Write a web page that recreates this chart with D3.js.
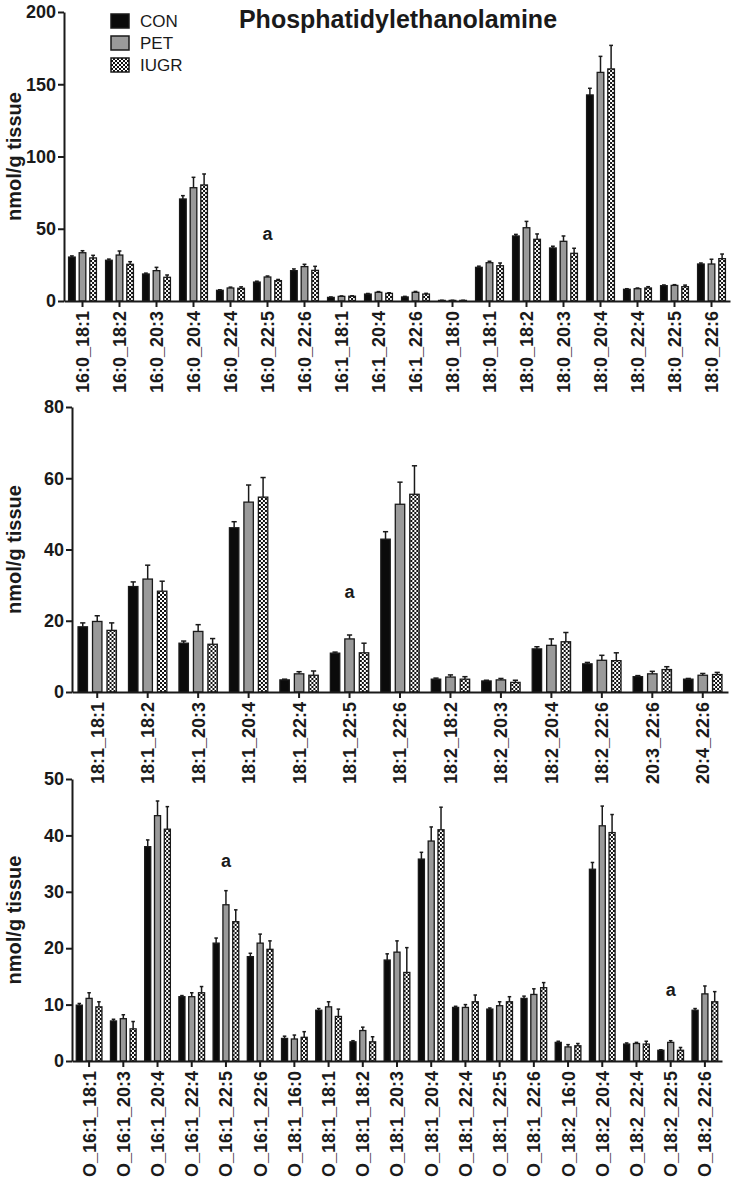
<!DOCTYPE html>
<html>
<head>
<meta charset="utf-8">
<script src="https://cdn.jsdelivr.net/npm/d3@7"></script>
<style>
  body { margin: 0; background: #fff; }
  svg text { font-family: 'Liberation Sans', Arial, sans-serif; fill: #1a1a1a; }
</style>
</head>
<body>
<div id="chart"></div>
<script>
var seriesNames = [ 'CON', 'PET', 'IUGR' ];

// panel 1 - diacyl species
var pe1Categories = [ '16:0_18:1', '16:0_18:2', '16:0_20:3', '16:0_20:4', '16:0_22:4', '16:0_22:5',
  '16:0_22:6', '16:1_18:1', '16:1_20:4', '16:1_22:6', '18:0_18:0', '18:0_18:1', '18:0_18:2',
  '18:0_20:3', '18:0_20:4', '18:0_22:4', '18:0_22:5', '18:0_22:6' ];
var pe1Con     = [ 30.4, 28.2, 18.7, 70.6, 7.4, 13.1, 21.0, 2.5, 4.8, 2.8, 0.4, 23.3, 45.0, 36.7, 142.6, 8.1, 10.6, 25.6 ];
var pe1ConSem  = [ 0.8, 0.8, 0.6, 2.3, 0.4, 0.6, 1.2, 0.3, 0.4, 0.4, 0.1, 0.8, 1.1, 1.2, 4.6, 0.4, 0.5, 0.7 ];
var pe1Pet     = [ 33.4, 31.8, 21.0, 78.4, 9.0, 16.6, 23.8, 3.2, 6.0, 6.0, 0.4, 26.5, 50.7, 41.3, 158.2, 8.5, 10.8, 25.6 ];
var pe1PetSem  = [ 1.4, 2.8, 2.3, 7.2, 0.6, 0.7, 1.6, 0.3, 0.5, 0.6, 0.1, 1.0, 4.4, 3.7, 11.1, 0.5, 0.5, 3.3 ];
var pe1Iugr    = [ 29.8, 25.4, 16.4, 80.3, 8.8, 14.1, 21.2, 3.3, 5.3, 4.8, 0.4, 24.4, 42.7, 33.0, 160.6, 9.0, 9.9, 29.3 ];
var pe1IugrSem = [ 1.8, 1.8, 1.6, 7.6, 1.0, 0.8, 2.8, 0.3, 0.4, 0.5, 0.1, 1.9, 3.7, 3.5, 16.3, 0.9, 1.1, 3.2 ];
var pe1Ticks   = [ 0, 50, 100, 150, 200 ];
var pe1MarkCategories = [ '16:0_22:5' ];
var pe1MarkValues     = [ 46 ];

// panel 2
var pe2Categories = [ '18:1_18:1', '18:1_18:2', '18:1_20:3', '18:1_20:4', '18:1_22:4', '18:1_22:5',
  '18:1_22:6', '18:2_18:2', '18:2_20:3', '18:2_20:4', '18:2_22:6', '20:3_22:6', '20:4_22:6' ];
var pe2Con     = [ 18.3, 29.6, 13.7, 46.1, 3.4, 10.9, 42.9, 3.6, 3.1, 12.1, 7.9, 4.3, 3.6 ];
var pe2ConSem  = [ 1.1, 1.3, 0.6, 1.7, 0.2, 0.3, 2.1, 0.3, 0.2, 0.6, 0.4, 0.3, 0.2 ];
var pe2Pet     = [ 19.8, 31.7, 17.0, 53.3, 5.1, 14.9, 52.7, 4.2, 3.4, 13.1, 8.9, 5.1, 4.7 ];
var pe2PetSem  = [ 1.6, 3.9, 1.9, 4.8, 0.6, 1.1, 6.2, 0.6, 0.4, 1.8, 1.4, 0.7, 0.5 ];
var pe2Iugr    = [ 17.3, 28.3, 13.4, 54.7, 4.7, 11.0, 55.5, 3.6, 2.7, 14.1, 8.8, 6.3, 4.9 ];
var pe2IugrSem = [ 2.1, 2.8, 1.6, 5.5, 1.2, 2.7, 8.0, 0.7, 0.6, 2.6, 2.2, 0.8, 0.6 ];
var pe2Ticks   = [ 0, 20, 40, 60, 80 ];
var pe2MarkCategories = [ '18:1_22:5' ];
var pe2MarkValues     = [ 27.8 ];

// panel 3 - ether species
var pe3Categories = [ 'O_16:1_18:1', 'O_16:1_20:3', 'O_16:1_20:4', 'O_16:1_22:4', 'O_16:1_22:5',
  'O_16:1_22:6', 'O_18:1_16:0', 'O_18:1_18:1', 'O_18:1_18:2', 'O_18:1_20:3', 'O_18:1_20:4',
  'O_18:1_22:4', 'O_18:1_22:5', 'O_18:1_22:6', 'O_18:2_16:0', 'O_18:2_20:4', 'O_18:2_22:4',
  'O_18:2_22:5', 'O_18:2_22:6' ];
var pe3Con     = [ 9.9, 7.1, 38.0, 11.4, 20.9, 18.5, 4.0, 9.0, 3.4, 17.9, 35.8, 9.5, 9.2, 11.1, 3.3, 34.0, 3.0, 1.9, 9.0 ];
var pe3ConSem  = [ 0.3, 0.3, 1.2, 0.2, 0.9, 0.6, 0.4, 0.3, 0.2, 1.1, 1.2, 0.2, 0.2, 0.4, 0.2, 1.2, 0.2, 0.1, 0.3 ];
var pe3Pet     = [ 11.1, 7.5, 43.5, 11.4, 27.7, 20.9, 3.9, 9.6, 5.4, 19.3, 39.0, 9.5, 9.8, 11.8, 2.5, 41.7, 3.1, 3.3, 11.9 ];
var pe3PetSem  = [ 1.0, 0.7, 2.6, 0.7, 2.5, 1.6, 0.7, 0.9, 0.6, 2.0, 2.5, 0.5, 0.7, 1.0, 0.4, 3.5, 0.2, 0.3, 1.4 ];
var pe3Iugr    = [ 9.6, 5.7, 41.1, 12.1, 24.7, 19.8, 4.2, 7.9, 3.4, 15.7, 41.0, 10.5, 10.5, 13.0, 2.7, 40.5, 3.0, 1.9, 10.5 ];
var pe3IugrSem = [ 0.9, 1.3, 4.0, 1.1, 2.1, 1.5, 1.0, 1.3, 0.9, 4.4, 4.0, 1.2, 0.9, 0.9, 0.4, 3.2, 0.5, 0.5, 1.8 ];
var pe3Ticks   = [ 0, 10, 20, 30, 40, 50 ];
var pe3MarkCategories = [ 'O_16:1_22:5', 'O_18:2_22:5' ];
var pe3MarkValues     = [ 35.3, 12.5 ];

var ink = '#1a1a1a';

var panels = [
  {
    categories : pe1Categories,
    means      : [ pe1Con, pe1Pet, pe1Iugr ],
    sems       : [ pe1ConSem, pe1PetSem, pe1IugrSem ],
    ticks      : pe1Ticks,
    marks      : [ pe1MarkCategories, pe1MarkValues ],
    box        : { left: 64, right: 730, top: 12, bottom: 301 }
  },
  {
    categories : pe2Categories,
    means      : [ pe2Con, pe2Pet, pe2Iugr ],
    sems       : [ pe2ConSem, pe2PetSem, pe2IugrSem ],
    ticks      : pe2Ticks,
    marks      : [ pe2MarkCategories, pe2MarkValues ],
    box        : { left: 72, right: 728, top: 407, bottom: 692 }
  },
  {
    categories : pe3Categories,
    means      : [ pe3Con, pe3Pet, pe3Iugr ],
    sems       : [ pe3ConSem, pe3PetSem, pe3IugrSem ],
    ticks      : pe3Ticks,
    marks      : [ pe3MarkCategories, pe3MarkValues ],
    box        : { left: 72, right: 722, top: 779, bottom: 1061 }
  }
];

var svg = d3.select( '#chart' ).append( 'svg' )
  .attr( 'width', 733 )
  .attr( 'height', 1180 );

var checker = svg.append( 'defs' ).append( 'pattern' )
  .attr( 'id', 'checker' )
  .attr( 'patternUnits', 'userSpaceOnUse' )
  .attr( 'width', 4 )
  .attr( 'height', 4 );
checker.append( 'rect' ).attr( 'width', 4 ).attr( 'height', 4 ).attr( 'fill', '#111' );
checker.append( 'rect' ).attr( 'width', 2 ).attr( 'height', 2 ).attr( 'fill', '#fff' );
checker.append( 'rect' ).attr( 'x', 2 ).attr( 'y', 2 ).attr( 'width', 2 ).attr( 'height', 2 ).attr( 'fill', '#fff' );

var fills = { CON: '#0b0b0b', PET: '#9a9a9a', IUGR: 'url(#checker)' };

function styleAxis( g ) {
  g.attr( 'font-family', null ).attr( 'font-size', null );
  g.selectAll( 'path, line' ).attr( 'stroke', ink ).attr( 'stroke-width', 2 );
  g.selectAll( 'text' )
    .attr( 'fill', ink )
    .style( 'font-size', '18px' )
    .style( 'font-weight', 'bold' );
}

function drawPanel( p ) {
  var box = p.box,
      x = d3.scaleBand()
        .domain( p.categories )
        .range( [ box.left, box.right ] )
        .paddingInner( 0.22 )
        .paddingOuter( 0.11 ),
      xs = d3.scaleBand()
        .domain( seriesNames )
        .range( [ 0, x.bandwidth() ] )
        .paddingInner( 0.28 ),
      y = d3.scaleLinear()
        .domain( [ 0, p.ticks[ p.ticks.length - 1 ] ] )
        .range( [ box.bottom, box.top ] ),
      bw = xs.bandwidth(),
      g = svg.append( 'g' ),
      rows;

  rows = p.categories.map( function( c, i ) {
    return {
      category : c,
      values   : seriesNames.map( function( s, k ) {
        return { series: s, mean: p.means[ k ][ i ], sem: p.sems[ k ][ i ] };
      } )
    };
  } );

  var bars = g.selectAll( '.cat' )
    .data( rows )
    .enter().append( 'g' )
    .attr( 'class', 'cat' )
    .attr( 'transform', function( d ) { return 'translate(' + x( d.category ) + ',0)'; } )
    .selectAll( '.bar' )
    .data( function( d ) { return d.values; } )
    .enter().append( 'g' )
    .attr( 'class', 'bar' );

  // error bars (upper half only)
  bars.append( 'line' )
    .attr( 'x1', function( d ) { return xs( d.series ) + bw / 2; } )
    .attr( 'x2', function( d ) { return xs( d.series ) + bw / 2; } )
    .attr( 'y1', function( d ) { return y( d.mean ); } )
    .attr( 'y2', function( d ) { return y( d.mean + d.sem ); } )
    .attr( 'stroke', ink )
    .attr( 'stroke-width', 1.5 );

  bars.append( 'line' )
    .attr( 'x1', function( d ) { return xs( d.series ) + bw * 0.25; } )
    .attr( 'x2', function( d ) { return xs( d.series ) + bw * 0.75; } )
    .attr( 'y1', function( d ) { return y( d.mean + d.sem ); } )
    .attr( 'y2', function( d ) { return y( d.mean + d.sem ); } )
    .attr( 'stroke', ink )
    .attr( 'stroke-width', 1.5 );

  bars.append( 'rect' )
    .attr( 'x', function( d ) { return xs( d.series ) + 0.5; } )
    .attr( 'y', function( d ) { return y( d.mean ); } )
    .attr( 'width', bw - 1 )
    .attr( 'height', function( d ) { return y( 0 ) - y( d.mean ); } )
    .attr( 'fill', function( d ) { return fills[ d.series ]; } )
    .attr( 'stroke', ink )
    .attr( 'stroke-width', 1.3 );

  g.append( 'g' )
    .attr( 'transform', 'translate(' + box.left + ',0)' )
    .call( d3.axisLeft( y ).tickValues( p.ticks ).tickSize( 6 ).tickSizeOuter( 0 ).tickPadding( 2 ) )
    .call( styleAxis );

  g.append( 'g' )
    .attr( 'transform', 'translate(0,' + box.bottom + ')' )
    .call( d3.axisBottom( x ).tickSize( 6 ).tickSizeOuter( 0 ) )
    .call( styleAxis )
    .selectAll( 'text' )
    .attr( 'transform', 'rotate(-90)' )
    .attr( 'x', -10 )
    .attr( 'y', 0 )
    .attr( 'dy', '0.36em' )
    .attr( 'text-anchor', 'end' );

  g.append( 'text' )
    .attr( 'transform', 'translate(21,' + ( box.top + box.bottom ) / 2 + ') rotate(-90)' )
    .attr( 'text-anchor', 'middle' )
    .style( 'font-size', '20px' )
    .style( 'font-weight', 'bold' )
    .text( 'nmol/g tissue' );

  g.selectAll( '.mark' )
    .data( p.marks[ 0 ] )
    .enter().append( 'text' )
    .attr( 'class', 'mark' )
    .attr( 'x', function( d ) { return x( d ) + x.bandwidth() / 2; } )
    .attr( 'y', function( d, i ) { return y( p.marks[ 1 ][ i ] ) + 5; } )
    .attr( 'text-anchor', 'middle' )
    .style( 'font-size', '18px' )
    .style( 'font-weight', 'bold' )
    .text( 'a' );
}

panels.forEach( drawPanel );

svg.append( 'text' )
  .attr( 'x', 398 )
  .attr( 'y', 28 )
  .attr( 'text-anchor', 'middle' )
  .style( 'font-size', '25px' )
  .style( 'font-weight', 'bold' )
  .text( 'Phosphatidylethanolamine' );

var legend = svg.append( 'g' )
  .selectAll( 'g' )
  .data( seriesNames )
  .enter().append( 'g' )
  .attr( 'transform', function( d, i ) { return 'translate(111,' + ( 14 + i * 22 ) + ')'; } );

legend.append( 'rect' )
  .attr( 'width', 18 )
  .attr( 'height', 14 )
  .attr( 'fill', function( d ) { return fills[ d ]; } )
  .attr( 'stroke', ink )
  .attr( 'stroke-width', 1.5 );

legend.append( 'text' )
  .attr( 'x', 29 )
  .attr( 'y', 13 )
  .style( 'font-size', '17px' )
  .text( function( d ) { return d; } );
</script>
</body>
</html>
